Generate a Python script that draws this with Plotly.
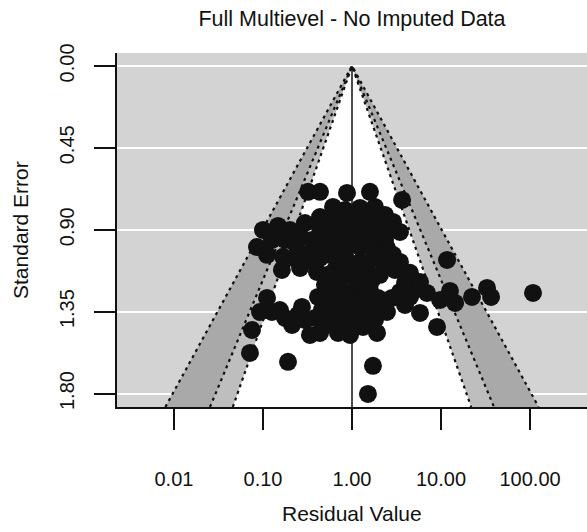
import numpy as np
import plotly.graph_objects as go

# ---- data ----
residual = [0.321, 0.437, 0.879, 1.59, 3.65, 0.100, 0.0857, 0.1475, 0.201, 0.111,
            0.168, 0.296, 0.437, 0.235, 0.355, 0.163, 0.261, 0.404, 0.612, 0.834,
            1.23, 1.81, 2.35, 2.89, 3.46, 0.566, 0.834, 1.23, 1.81, 0.497,
            0.733, 1.081, 1.59, 2.35, 2.89, 0.566, 0.834, 1.23, 1.81, 0.437,
            0.644, 0.950, 1.40, 2.06, 3.04, 4.48, 0.497, 0.733, 1.081, 1.59,
            3.46, 5.10, 6.96, 9.75, 0.415, 0.596, 0.733, 1.081, 1.59, 2.47,
            3.94, 5.81, 9.02, 0.274, 0.384, 0.566, 0.834, 1.23, 1.81, 1.33,
            1.91, 0.696, 0.437, 0.337, 0.212, 0.155, 0.111, 0.0925, 0.0752, 0.0714,
            0.191, 0.950, 11.7, 12.6, 14.4, 22.3, 32.9, 36.5, 108.0, 1.72,
            1.51,
            0.696, 1.00, 1.47, 2.06, 2.67, 0.644, 0.950, 1.40, 1.96, 0.437,
            0.126, 0.177, 0.261, 0.566, 0.834, 1.23, 1.72, 2.47, 0.296, 0.415,
            0.733, 1.00, 1.51, 2.23, 3.46, 0.772, 1.168, 1.68, 3.94, 5.81,
            0.644, 0.902, 1.30, 1.96, 2.81, 4.48, 0.460, 0.644, 0.950, 1.40,
            2.06, 0.497, 0.733, 1.00, 0.296, 0.247, 0.126, 0.177, 0.537,
            0.350, 0.230, 0.140]
std_error = [0.692, 0.692, 0.698, 0.692, 0.736, 0.901, 0.995, 0.879, 0.901, 1.038,
             1.049, 0.863, 0.830, 0.984, 0.956, 1.121, 1.110, 1.132, 0.775, 0.791,
             0.780, 0.775, 0.819, 0.857, 0.912, 0.857, 0.874, 0.857, 0.874, 0.956,
             0.956, 0.945, 0.956, 0.956, 1.038, 1.038, 1.038, 1.077, 1.038, 1.055,
             1.121, 1.148, 1.132, 1.148, 1.121, 1.137, 1.203, 1.220, 1.231, 1.231,
             1.242, 1.231, 1.247, 1.286, 1.269, 1.286, 1.313, 1.313, 1.313, 1.352,
             1.313, 1.357, 1.434, 1.324, 1.385, 1.385, 1.396, 1.385, 1.396, 1.434,
             1.467, 1.467, 1.467, 1.478, 1.423, 1.341, 1.275, 1.352, 1.451, 1.577,
             1.626, 1.478, 1.066, 1.236, 1.302, 1.269, 1.220, 1.269, 1.247, 1.648,
             1.802,
             0.819, 0.824, 0.819, 0.830, 0.901, 0.912, 0.912, 0.912, 0.912, 0.890,
             0.956, 0.956, 0.934, 0.995, 0.995, 0.995, 1.000, 1.000, 1.038, 1.000,
             1.077, 1.093, 1.082, 1.077, 1.077, 1.165, 1.187, 1.176, 1.192, 1.187,
             1.258, 1.269, 1.275, 1.275, 1.275, 1.269, 1.341, 1.352, 1.352, 1.352,
             1.330, 1.423, 1.423, 1.423, 1.396, 1.368, 1.352, 1.385, 1.148,
             1.070, 1.060, 0.940]

x_tick_vals = [0.01, 0.1, 1, 10, 100]
x_tick_text = ["0.01", "0.10", "1.00", "10.00", "100.00"]
y_tick_vals = [0.0, 0.45, 0.90, 1.35, 1.80]
y_tick_text = ["0.00", "0.45", "0.90", "1.35", "1.80"]

center = 1.0
levels_z = [2.576, 1.960, 1.645]          # 99%, 95%, 90%
level_fill = ["#a9a9a9", "#bebebe", "#ffffff"]
y_max = 1.874
y_min = -0.071
x_log_range = [-2.64, 2.64]

FONT = "Liberation Sans, Arial, Helvetica, sans-serif"

fig = go.Figure()

# contour polygons
for z, col in zip(levels_z, level_fill):
    lo = center * np.exp(-z * y_max)
    hi = center * np.exp(z * y_max)
    fig.add_trace(go.Scatter(x=[center, lo, hi, center], y=[0, y_max, y_max, 0],
                             mode="lines", fill="toself", fillcolor=col,
                             line=dict(width=0), hoverinfo="skip", showlegend=False))

# dotted boundaries
for z in levels_z:
    lo = center * np.exp(-z * y_max)
    hi = center * np.exp(z * y_max)
    fig.add_trace(go.Scatter(x=[lo, center, hi], y=[y_max, 0, y_max], mode="lines",
                             line=dict(color="#111111", width=2.2, dash="3px,4px"),
                             hoverinfo="skip", showlegend=False))

# vertical reference line
fig.add_trace(go.Scatter(x=[center, center], y=[0, y_max], mode="lines",
                         line=dict(color="#111111", width=1.5),
                         hoverinfo="skip", showlegend=False))

# points
fig.add_trace(go.Scatter(x=residual, y=std_error, mode="markers",
                         marker=dict(size=18, color="#111111", line=dict(width=0)),
                         showlegend=False))

fig.update_layout(
    width=587, height=532,
    margin=dict(l=117, r=0, t=53, b=125),
    paper_bgcolor="white", plot_bgcolor="#d3d3d3",
    font=dict(family=FONT, size=20, color="#111111"),
    title=dict(text="Full Multievel - No Imputed Data", x=0.5, xanchor="center",
               xref="paper", y=1 - 18 / 532, yref="container", yanchor="middle",
               font=dict(size=21.5, color="#111111")),
    xaxis=dict(type="log", range=x_log_range, tickvals=x_tick_vals, ticktext=x_tick_text,
               showgrid=False, zeroline=False, showline=True, linecolor="#111111",
               linewidth=2, ticks="outside", ticklen=21, tickwidth=2, tickcolor="#111111",
               ticklabelstandoff=32),
    yaxis=dict(range=[y_max, y_min], tickvals=y_tick_vals, ticktext=y_tick_text,
               showgrid=True, gridcolor="white", gridwidth=2, zeroline=False,
               showline=True, linecolor="#111111", linewidth=2, ticks="outside",
               ticklen=21, tickwidth=2, tickcolor="#111111", tickangle=-90,
               ticklabelstandoff=12),
    annotations=[
        dict(text="Residual Value", xref="paper", yref="paper", x=0.5, y=(407 - 513) / 354,
             xanchor="center", yanchor="middle", showarrow=False, font=dict(size=21)),
        dict(text="Standard Error", xref="paper", yref="paper", x=(20 - 117) / 470, y=0.5,
             xanchor="center", yanchor="middle", textangle=-90, showarrow=False,
             font=dict(size=21)),
    ],
)

fig.write_html("out.html")
